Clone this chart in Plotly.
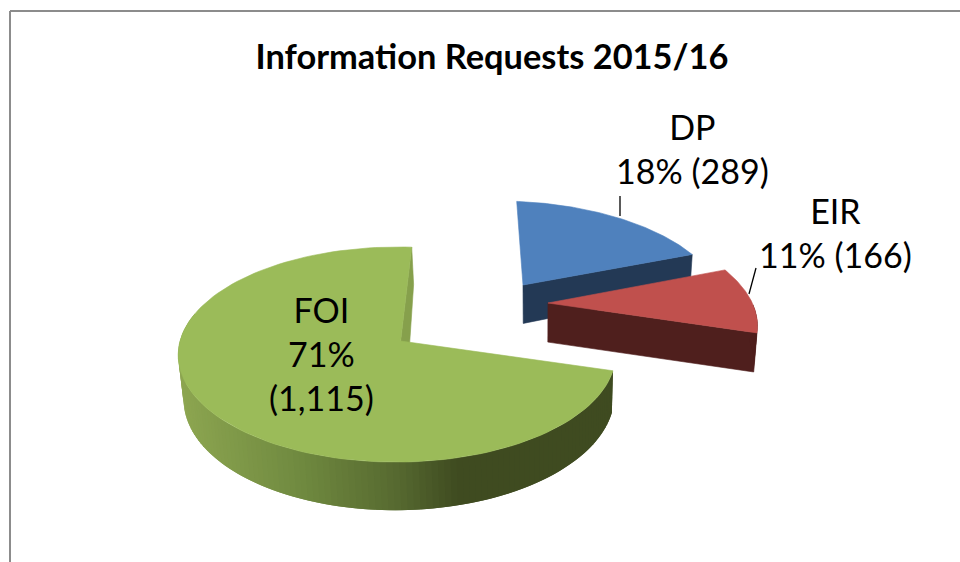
import numpy as np
import plotly.graph_objects as go

# ---- data ----
categories = ["DP", "EIR", "FOI"]
values = [289, 166, 1115]
percent_labels = ["18%", "11%", "71%"]
count_labels = ["289", "166", "1,115"]
title_text = "Information Requests 2015/16"

# ---- styles ----
top_colors = ["#4f81bd", "#c0504d", "#9bbb59"]
wall_colors = ["#233955", "#4f1f1d", "#86a04c"]
FONT = "Lato, Carlito, Calibri, sans-serif"

# ---- 3D pie projection (disc coordinates -> page pixels) ----
CX, CY, A, B, K, L = 405.0, 341.0, 216.7, 105.8, 0.1256, 0.0368
DEPTH, SHRINK, BOTTOM_SHIFT = 42.0, 0.985, 2.0
FIRST_ANGLE = 2.0
explode_uv = [(0.596, -0.579), (0.709, -0.386), (0.0, 0.0)]
apex_nudge_u = [0.0, 0.0, -0.02]
radius = [1.04, 1.08, 1.0]


def project(u, v, down=False):
    u, v = np.asarray(u, float), np.asarray(v, float)
    w = 1 + L * u - K * v
    x = A * u / w
    y = CY + B * v / w
    if down:
        x = x * SHRINK + BOTTOM_SHIFT
        y = y + DEPTH / w
    return CX + x, y


def disc(i, deg):
    rad = np.radians(deg)
    return (explode_uv[i][0] + radius[i] * np.sin(rad),
            explode_uv[i][1] - radius[i] * np.cos(rad))


def poly(fig, x, y, color, width=0.6):
    fig.add_trace(go.Scatter(
        x=list(x), y=list(y), mode="lines", fill="toself", fillcolor=color,
        line=dict(color=color, width=width), hoverinfo="skip", showlegend=False))


def wall_gradient(x):
    stops_x = [183, 300, 400, 460, 615]
    stops = np.array([[0x8c, 0xa5, 0x50], [0x70, 0x8a, 0x40], [0x56, 0x69, 0x30],
                      [0x3f, 0x4b, 0x20], [0x3f, 0x4b, 0x20]], float)
    rgb = [np.interp(x, stops_x, stops[:, c]) for c in range(3)]
    return "rgb(%d,%d,%d)" % tuple(int(round(c)) for c in rgb)


fig = go.Figure()
edges = FIRST_ANGLE + np.concatenate([[0], np.cumsum(values)]) / np.sum(values) * 360.0

for i, cat in enumerate(categories):
    a0, a1 = edges[i], edges[i + 1]
    au, av = explode_uv[i]
    tip = au + apex_nudge_u[i]
    # face cut along the slice's closing edge
    eu, ev = disc(i, a1)
    xt, yt = project([tip, eu], [av, ev])
    xb, yb = project([eu, au], [ev, av], down=True)
    poly(fig, [*xt, *xb, xt[0]], [*yt, *yb, yt[0]], wall_colors[i])
    # outer wall, only the part facing the viewer
    lo, hi = max(a0, 90.0), min(a1, 285.0)
    if hi > lo:
        STEP = 1.5
        # each strip runs under the next one, so no seams show
        for s0 in np.arange(lo, hi, STEP)[::-1]:
            seg = np.linspace(max(s0 - STEP, lo), min(s0 + STEP, hi), 5)
            u, v = disc(i, seg)
            x0, y0 = project(u, v)
            x1, y1 = project(u[::-1], v[::-1], down=True)
            color = wall_gradient(project(*disc(i, s0))[0]) if cat == "FOI" else wall_colors[i]
            poly(fig, [*x0, *x1, x0[0]], [*y0, *y1, y0[0]], color, width=0)
    # top surface
    arc = np.linspace(a0, a1, 120)
    u, v = disc(i, arc)
    x, y = project(np.r_[tip, u, tip], np.r_[av, v, av])
    poly(fig, x, y, top_colors[i])

# labels
label_pos = {"DP": (692, 148), "EIR": (835, 232), "FOI": (321, 353)}
for cat, pct, cnt in zip(categories, percent_labels, count_labels):
    count = "(" + cnt + ")"
    text = f"{cat}<br>{pct}<br>{count}" if cat == "FOI" else f"{cat}<br>{pct} {count}"
    lx, ly = label_pos[cat]
    fig.add_annotation(x=lx, y=ly, xref="x", yref="y", text=text, showarrow=False,
                       font=dict(family=FONT, size=34, color="#000000"), align="center")

# leader lines
for lx, ly in [((620, 620), (196, 216)), ((756, 749), (268, 294))]:
    fig.add_trace(go.Scatter(x=list(lx), y=list(ly), mode="lines",
                             line=dict(color="#000000", width=1.3),
                             hoverinfo="skip", showlegend=False))

# chart frame: top and left only are in view
frame = dict(color="#8c8c8c", width=2)
fig.add_shape(type="line", xref="x", yref="y", x0=10, x1=960, y0=11, y1=11, line=frame)
fig.add_shape(type="line", xref="x", yref="y", x0=10, x1=10, y0=11, y1=562, line=frame)

fig.update_layout(
    width=960, height=562, autosize=False,
    margin=dict(l=0, r=0, t=0, b=0),
    paper_bgcolor="#ffffff", plot_bgcolor="#ffffff",
    title=dict(text=f"<b>{title_text}</b>", x=492 / 960, y=1 - 57 / 562,
               xanchor="center", yanchor="middle",
               font=dict(family=FONT, size=34.4, color="#000000")),
    xaxis=dict(range=[0, 960], visible=False, fixedrange=True),
    yaxis=dict(range=[562, 0], visible=False, fixedrange=True),
)
fig.write_html("out.html", config={"displayModeBar": False},
               post_script="document.body.style.margin='0';document.body.style.overflow='hidden';")
